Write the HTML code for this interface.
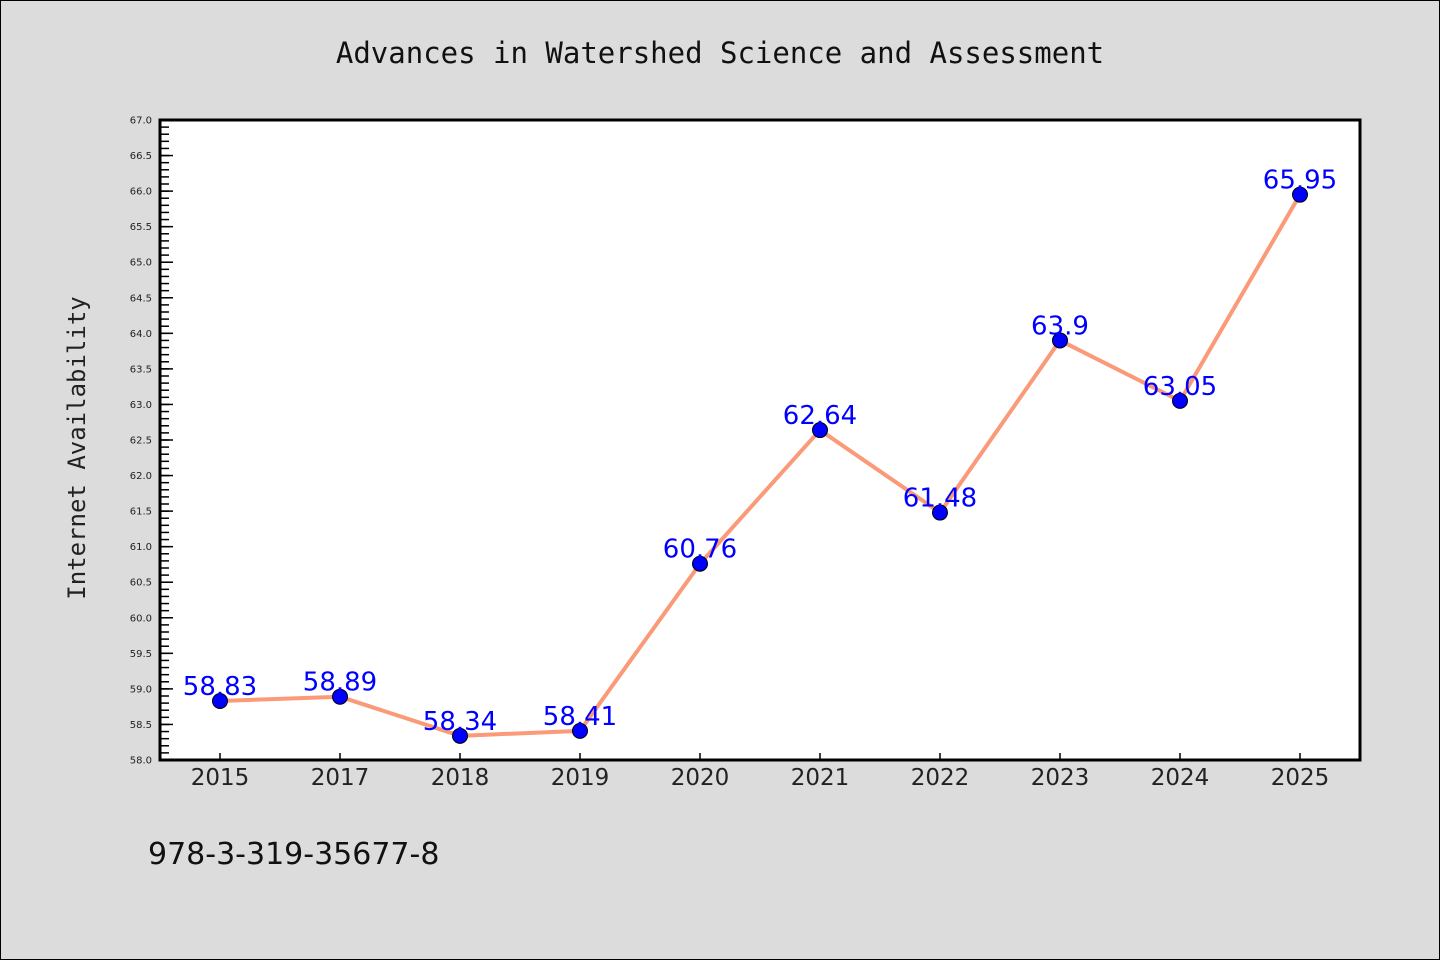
<!DOCTYPE html>
<html><head><meta charset="utf-8"><style>
body{margin:0;background:#dcdcdc;}
svg{display:block;}
</style></head><body>
<svg id="chart" width="1440" height="960" xmlns="http://www.w3.org/2000/svg">
<rect x="0.5" y="0.5" width="1439" height="959" fill="#dcdcdc" stroke="#000" stroke-width="1"/>
<text x="720" y="63" text-anchor="middle" font-family="'DejaVu Sans Mono','Liberation Mono',monospace" font-size="29" fill="#111">Advances in Watershed Science and Assessment</text>
<rect x="160" y="120" width="1200" height="640" fill="#fff"/>
<g id="yaxis"></g>
<g id="xaxis"></g>
<g id="series"></g>
<rect x="160" y="120" width="1200" height="640" fill="none" stroke="#000" stroke-width="3"/>
<text transform="translate(85,448) rotate(-90)" text-anchor="middle" font-family="'DejaVu Sans Mono','Liberation Mono',monospace" font-size="24" fill="#222">Internet Availability</text>
<text x="148" y="864" font-family="'DejaVu Sans','Liberation Sans',sans-serif" font-size="30" fill="#111">978-3-319-35677-8</text>
</svg>
<script>
const categories = ["2015","2017","2018","2019","2020","2021","2022","2023","2024","2025"];
const values = [58.83,58.89,58.34,58.41,60.76,62.64,61.48,63.9,63.05,65.95];
const valueLabels = ["58.83","58.89","58.34","58.41","60.76","62.64","61.48","63.9","63.05","65.95"];
const yTicks = [58.0,58.5,59.0,59.5,60.0,60.5,61.0,61.5,62.0,62.5,63.0,63.5,64.0,64.5,65.0,65.5,66.0,66.5,67.0];
const yMin = 58, yMax = 67;
const NS = "http://www.w3.org/2000/svg";
const L=160,R=1360,T=120,B=760;
function yScale(v){return B-(v-yMin)/(yMax-yMin)*(B-T);}
function xScale(i){const bw=(R-L)/categories.length;return L+bw*(i+0.5);}
function mk(tag,attrs,parent){const e=document.createElementNS(NS,tag);for(const k in attrs)e.setAttribute(k,attrs[k]);parent.appendChild(e);return e;}
const ya=document.getElementById('yaxis');
for(let v=yMin; v<=yMax+1e-9; v+=0.1){
  const y=yScale(v);
  const t=mk('line',{x1:L,x2:L+9,y1:y,y2:y,stroke:'#000','stroke-width':1.5},ya);
  
  
}
yTicks.forEach(v=>{
  const y=yScale(v);
  const t=mk('line',{x1:L,x2:L+13,y1:y,y2:y,stroke:'#000','stroke-width':1.5},ya);
  
  
  const tx=mk('text',{x:152,y:y+3.5,'text-anchor':'end','font-family':"'DejaVu Sans','Liberation Sans',sans-serif",'font-size':10,fill:'#222'},ya);
  tx.textContent=v.toFixed(1);
  
  
});
const xa=document.getElementById('xaxis');
categories.forEach((c,i)=>{
  const x=xScale(i);
  const t=mk('line',{x1:x,x2:x,y1:B,y2:B-7,stroke:'#000','stroke-width':1.5},xa);
  
  
  const tx=mk('text',{x:x,y:785,'text-anchor':'middle','font-family':"'DejaVu Sans','Liberation Sans',sans-serif",'font-size':23,fill:'#222'},xa);
  tx.textContent=c;
  
  
});
const s=document.getElementById('series');
const pts=values.map((v,i)=>xScale(i)+','+yScale(v)).join(' ');
const pl=mk('polyline',{points:pts,fill:'none',stroke:'#fa9a78','stroke-width':4,'stroke-linejoin':'round'},s);


values.forEach((v,i)=>{
  const c=mk('circle',{cx:xScale(i),cy:yScale(v),r:7.5,fill:'#0000ff',stroke:'#000','stroke-width':1},s);
  
  
});
values.forEach((v,i)=>{
  const tx=mk('text',{x:xScale(i),y:yScale(v)-6,'text-anchor':'middle','font-family':"'DejaVu Sans','Liberation Sans',sans-serif",'font-size':26,fill:'#0000ff'},s);
  tx.textContent=valueLabels[i];
  
  
});
</script>
</body></html>
